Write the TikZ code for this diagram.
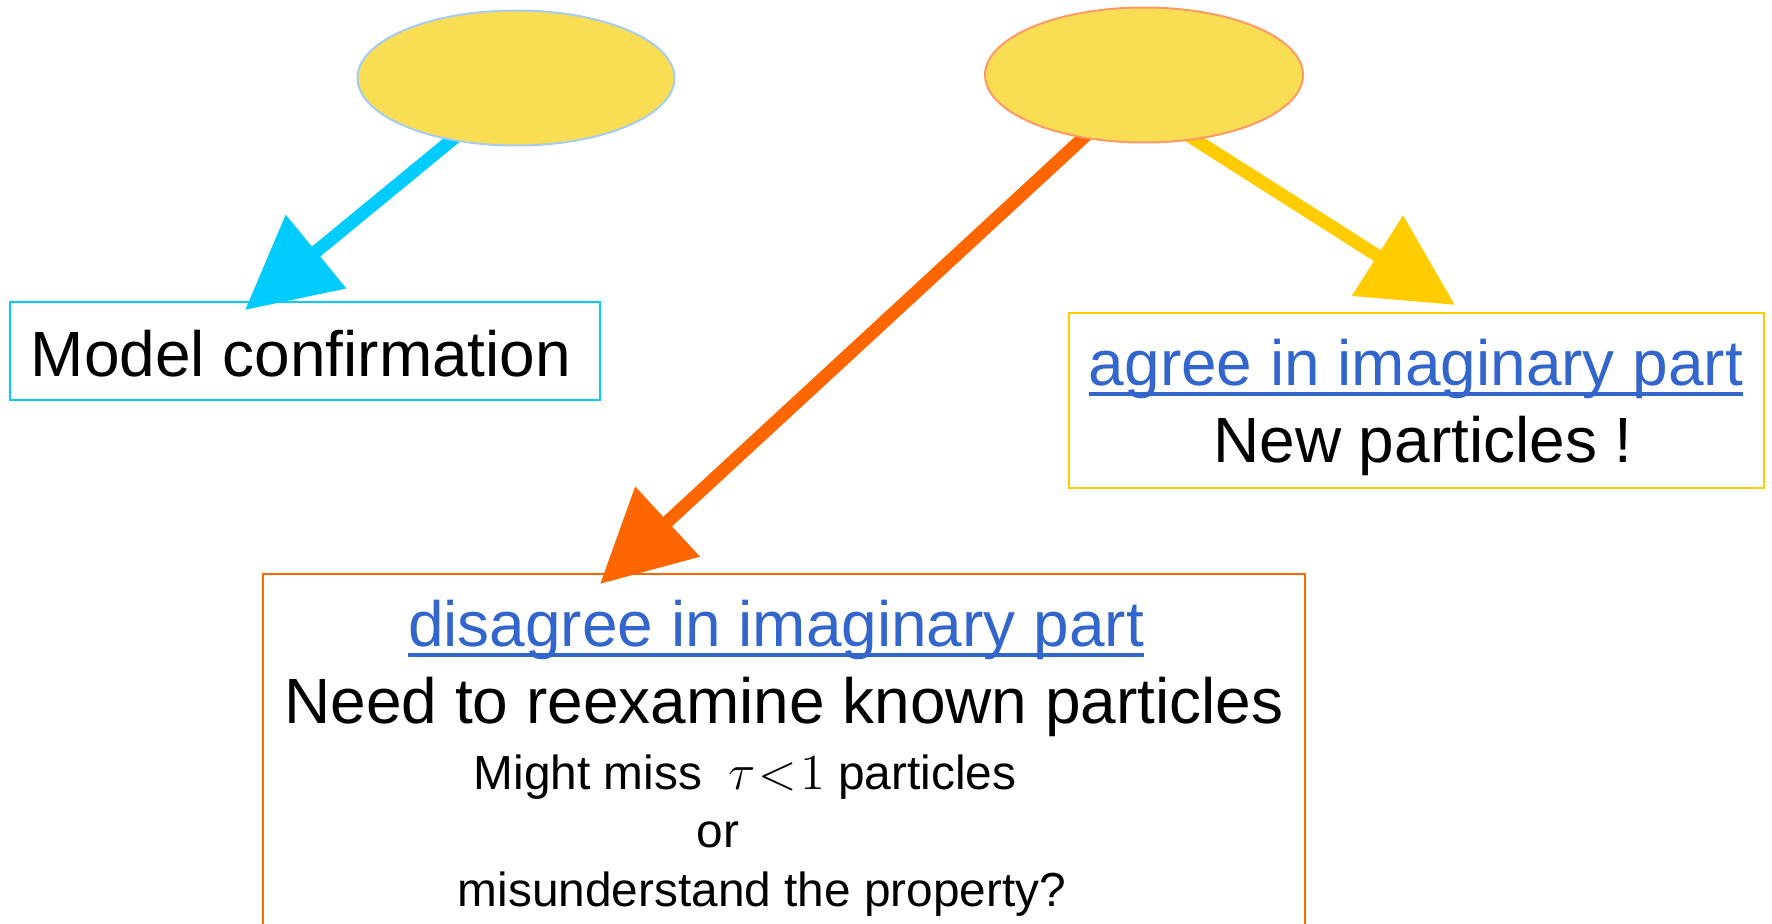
\documentclass[tikz,border=0pt]{standalone}
\usepackage{fontspec}
\setmainfont{Liberation Sans}
\usetikzlibrary{shapes.geometric,arrows.meta,backgrounds}
\definecolor{ellfill}{HTML}{F9DD52}
\definecolor{ellblue}{HTML}{A6CCF2}
\definecolor{ellred}{HTML}{FF9966}
\definecolor{cblue}{HTML}{00CCFF}
\definecolor{corange}{HTML}{FF6600}
\definecolor{cyellow}{HTML}{FFCC00}
\definecolor{linkcol}{HTML}{3366CC}
\newcommand\bigtxt{\fontsize{18.2}{22}\selectfont}
\newcommand\smalltxt{\fontsize{13.6}{16}\selectfont}
\tikzset{
  ell/.style={ellipse, fill=ellfill, line width=0.2mm, inner sep=0pt, outer sep=0pt},
  boxn/.style={rectangle, line width=0.2mm, inner sep=0pt, outer sep=0pt},
  txt/.style={anchor=base, inner sep=0pt, outer sep=0pt},
  bigarrow/.style={line width=1.3mm, -{Triangle[length=9.2mm,width=9.2mm]}, shorten <=-1.5mm},
  ulin/.style={linkcol, line width=0.4mm}
}
\begin{document}
\begin{tikzpicture}[x=0.1mm,y=-0.1mm]
\useasboundingbox (0,0) rectangle (1772,923);
\clip (0,0) rectangle (1772,923);
% ellipses
\node[ell, draw=ellblue, minimum width=31.7mm, minimum height=13.5mm] (e1) at (516,78) {};
\node[ell, draw=ellred, minimum width=31.8mm, minimum height=13.5mm] (e2) at (1144,75) {};
% boxes
\node[boxn, draw=cblue, minimum width=59mm, minimum height=9.8mm] (mc) at (305,351) {};
\node[boxn, draw=cyellow, minimum width=69.5mm, minimum height=17.5mm] (ag) at (1416.5,400.5) {};
\node[boxn, draw=corange, minimum width=104.2mm, minimum height=38.6mm] (dg) at (784,767) {};
% texts
\node[txt] (tmc) at (301,376) {\bigtxt Model confirmation};
\node[txt, text=linkcol] (tag) at (1416,385) {\bigtxt agree in imaginary part};
\node[txt] (tnp) at (1423,462) {\bigtxt New particles !};
\node[txt, text=linkcol] (tdg) at (776,646) {\bigtxt disagree in imaginary part};
\node[txt] (tneed) at (784,723) {\bigtxt Need to reexamine known particles};
\node[txt] (tmight) at (745,789) {\smalltxt Might miss~ $\tau\mkern1mu{<}\mkern1mu1$ particles};
\node[txt] (tor) at (718,847) {\smalltxt or};
\node[txt] (tmis) at (762,906) {\smalltxt misunderstand the property?};
\draw[ulin] ([yshift=-0.9mm]tag.base west) -- ([yshift=-0.9mm]tag.base east);
\draw[ulin] ([yshift=-0.9mm]tdg.base west) -- ([yshift=-0.9mm]tdg.base east);
% arrow tips
\coordinate (t1) at (245,310);
\coordinate (t2) at (600,584);
\coordinate (t3) at (1455,305);
\begin{pgfonlayer}{background}
\draw[bigarrow, cblue] (e1.224) -- (t1);
\draw[bigarrow, corange] (e2.226) -- (t2);
\draw[bigarrow, cyellow] (e2.308) -- (t3);
\end{pgfonlayer}
\end{tikzpicture}
\end{document}
